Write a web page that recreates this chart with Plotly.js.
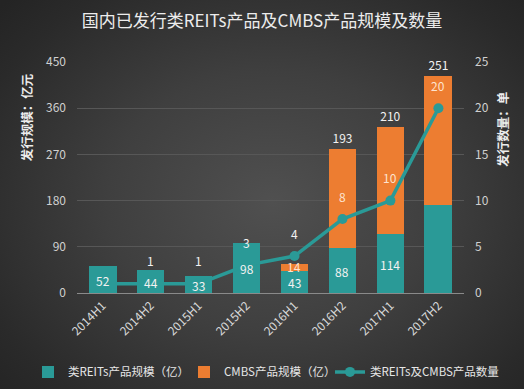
<!DOCTYPE html>
<html><head><meta charset="utf-8">
<script src="https://cdn.plot.ly/plotly-3.0.1.min.js"></script>
<style>
html,body{margin:0;padding:0;}
body{width:524px;height:389px;background:radial-gradient(ellipse 70% 75% at 52% 52%, #505050 0%, #3f3f3f 45%, #2a2a2a 85%, #242424 100%);overflow:hidden;}
#chart{width:524px;height:389px;}
</style></head>
<body><div id="chart"></div>
<script>
const categories = ['2014H1','2014H2','2015H1','2015H2','2016H1','2016H2','2017H1','2017H2'];
const reitsScale = [52, 44, 33, 98, 43, 88, 114, 172];
const cmbsScale  = [0, 0, 0, 0, 14, 193, 210, 251];
const productCount = [1, 1, 1, 3, 4, 8, 10, 20];

const cmbsText = cmbsScale.map(v=> v>100 ? String(v) : '');
const cmbsPos = cmbsScale.map(v=> v>100 ? 'outside' : 'none');

const FONT = '"Noto Sans CJK SC", "Noto Sans", sans-serif';
const TEAL = '#2a9a97';
const ORANGE = '#ed7d31';

const traces = [
  {type:'bar', name:'类REITs产品规模（亿）', x:categories, y:reitsScale, marker:{color:TEAL}, hoverinfo:'none', legend:'legend'},
  {type:'bar', name:'CMBS产品规模（亿）', x:categories, y:cmbsScale, marker:{color:ORANGE},
   text:cmbsText, textposition:cmbsPos, textangle:0, cliponaxis:false, constraintext:'none',
   outsidetextfont:{color:'#f2f2f2', size:12, family:FONT}, hoverinfo:'none', legend:'legend2'},
  {type:'scatter', mode:'lines+markers', name:'类REITs及CMBS产品数量', x:categories, y:productCount, yaxis:'y2',
   line:{color:TEAL, width:3.5}, marker:{color:TEAL, size:10}, hoverinfo:'none', legend:'legend3'}
];

// data labels as annotations so they sit above the line
const labelAnns = [];
reitsScale.forEach((v,i)=>{
  if (i === reitsScale.length-1) return;
  labelAnns.push({x:categories[i], y:v/2, xref:'x', yref:'y', text:String(v), showarrow:false, yshift:-1,
    font:{size:12, color:'#f2f2f2', family:FONT}, xanchor:'center', yanchor:'middle'});
});
cmbsScale.forEach((v,i)=>{
  if (v > 0 && v <= 100) labelAnns.push({x:categories[i], y:reitsScale[i] + v/2, xref:'x', yref:'y', text:String(v), showarrow:false, yshift:1,
    font:{size:12, color:'#fde3cf', family:FONT}, xanchor:'center', yanchor:'middle'});
});
productCount.forEach((v,i)=>{
  if (i === 0) return;
  labelAnns.push({x:categories[i], y:v, xref:'x', yref:'y2', text:String(v), showarrow:false, yshift:23,
    font:{size:12, color: cmbsScale[i] > 100 ? '#fde3cf' : '#f2f2f2', family:FONT}, xanchor:'center', yanchor:'middle'});
});

const legBase = {orientation:'h', xref:'container', yref:'container', xanchor:'left', y:0.044, yanchor:'middle',
                 font:{size:11.5, color:'#e6e6e6', family:FONT}, bgcolor:'rgba(0,0,0,0)', itemwidth:30};

const layout = {
  width:524, height:389,
  paper_bgcolor:'rgba(0,0,0,0)', plot_bgcolor:'rgba(0,0,0,0)',
  margin:{l:77, r:60, t:62, b:96},
  font:{family:FONT, color:'#d9d9d9', size:12},
  title:{text:'国内已发行类REITs产品及CMBS产品规模及数量', x:0.5, xanchor:'center', y:0.945, yanchor:'middle',
         font:{family:FONT, size:17, color:'#ececec'}},
  barmode:'stack', bargap:0.42,
  showlegend:true,
  legend:Object.assign({}, legBase, {x:(28)/524}),
  legend2:Object.assign({}, legBase, {x:(184)/524}),
  legend3:Object.assign({}, legBase, {x:(330)/524}),
  xaxis:{tickangle:-45, tickfont:{size:12, color:'#d9d9d9'}, showgrid:false, showline:true, linecolor:'#8a8a8a', linewidth:1,
         ticks:'', zeroline:false, automargin:false},
  yaxis:{range:[0,450], dtick:90, tickfont:{size:12, color:'#d0d0d0'}, gridcolor:'#575757', gridwidth:1,
         zeroline:false, showline:false, ticks:'', ticklabelstandoff:10, automargin:false},
  yaxis2:{range:[0,25], dtick:5, overlaying:'y', side:'right', showgrid:false, zeroline:false, showline:false, ticks:'',
          tickfont:{size:12, color:'#d0d0d0'}, ticklabelstandoff:10, automargin:false},
  annotations:[
    {text:'<b>发行规模：亿元</b>', textangle:-90, xref:'paper', yref:'paper', x:-0.13, y:0.76, xanchor:'center', yanchor:'middle',
     showarrow:false, font:{size:12.5, color:'#ececec', family:FONT}},
    {text:'<b>发行数量：单</b>', textangle:-90, xref:'paper', yref:'paper', x:1.10, y:0.71, xanchor:'center', yanchor:'middle',
     showarrow:false, font:{size:12.5, color:'#ececec', family:FONT}}
  ].concat(labelAnns)
};

Plotly.newPlot('chart', traces, layout, {displayModeBar:false, staticPlot:true});
</script></body></html>
